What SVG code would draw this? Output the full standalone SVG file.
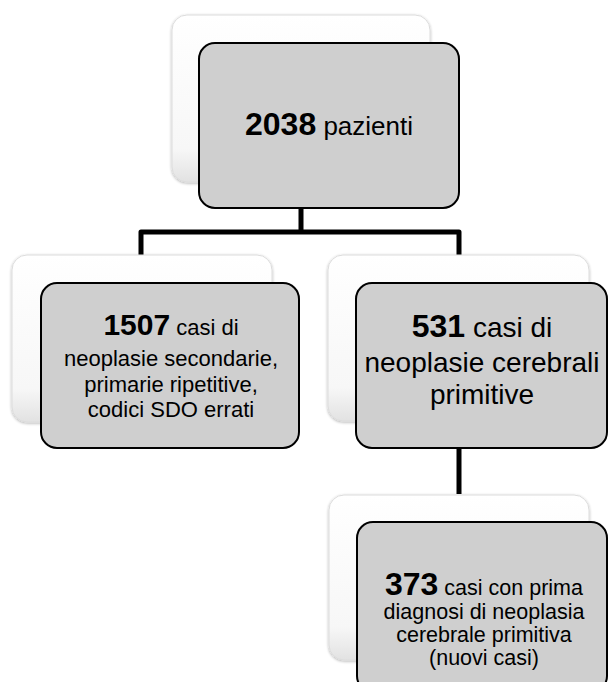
<svg xmlns="http://www.w3.org/2000/svg" width="608" height="682" viewBox="0 0 608 682">
<style>
.back{fill:url(#bg);stroke:#dcdcdc;stroke-width:1}
.front{fill:#cfcfcf;stroke:#000;stroke-width:2}
.conn{fill:none;stroke:#000;stroke-width:5;stroke-linejoin:round}
text{font-family:"Liberation Sans",Arial,sans-serif;fill:#000;text-anchor:middle}
.b{font-weight:bold}
</style>
<defs>
<linearGradient id="bg" x1="0" y1="0" x2="0" y2="1">
<stop offset="0" stop-color="#ffffff"/>
<stop offset="0.8" stop-color="#f7f7f7"/>
<stop offset="1" stop-color="#e2e2e2"/>
</linearGradient>
<filter id="sh" x="-10%" y="-10%" width="120%" height="120%">
<feGaussianBlur in="SourceAlpha" stdDeviation="1.5"/>
<feOffset dx="0" dy="1" result="o"/>
<feComponentTransfer><feFuncA type="linear" slope="0.3"/></feComponentTransfer>
<feMerge><feMergeNode/><feMergeNode in="SourceGraphic"/></feMerge>
</filter>
</defs>
<g id="connectors">
<path class="conn" d="M301,208 V232 M141,256 V232 H459 V256"/>
<path class="conn" d="M459,448 V494"/>
</g>
<g id="n2038">
<rect class="back" filter="url(#sh)" x="172" y="15" width="258" height="167" rx="15"/>
<rect class="front" x="199" y="43" width="260" height="165" rx="16"/>
<text x="329" y="135"><tspan class="b" font-size="32">2038</tspan><tspan font-size="26"> pazienti</tspan></text>
</g>
<g id="n1507">
<rect class="back" filter="url(#sh)" x="12" y="255" width="260" height="167" rx="15"/>
<rect class="front" x="41" y="283" width="258" height="165" rx="16"/>
<text x="171" y="335"><tspan class="b" font-size="30">1507</tspan><tspan font-size="22"> casi di</tspan></text>
<text x="171" y="366" font-size="22">neoplasie secondarie,</text>
<text x="171" y="392" font-size="22">primarie ripetitive,</text>
<text x="171" y="417" font-size="22">codici SDO errati</text>
</g>
<g id="n531">
<rect class="back" filter="url(#sh)" x="328" y="255" width="261" height="166" rx="15"/>
<rect class="front" x="356" y="283" width="251" height="165" rx="16"/>
<text x="482" y="337"><tspan class="b" font-size="32">531</tspan><tspan font-size="28"> casi di</tspan></text>
<text x="482" y="372" font-size="28">neoplasie cerebrali</text>
<text x="482" y="404" font-size="28">primitive</text>
</g>
<g id="n373">
<rect class="back" filter="url(#sh)" x="329" y="495" width="260" height="165" rx="15"/>
<rect class="front" x="357" y="522" width="250" height="170" rx="16"/>
<text x="484" y="595"><tspan class="b" font-size="32">373</tspan><tspan font-size="21.5"> casi con prima</tspan></text>
<text x="484" y="619" font-size="21.5">diagnosi di neoplasia</text>
<text x="484" y="642" font-size="21.5">cerebrale primitiva</text>
<text x="484" y="665" font-size="21.5">(nuovi casi)</text>
</g>
</svg>
